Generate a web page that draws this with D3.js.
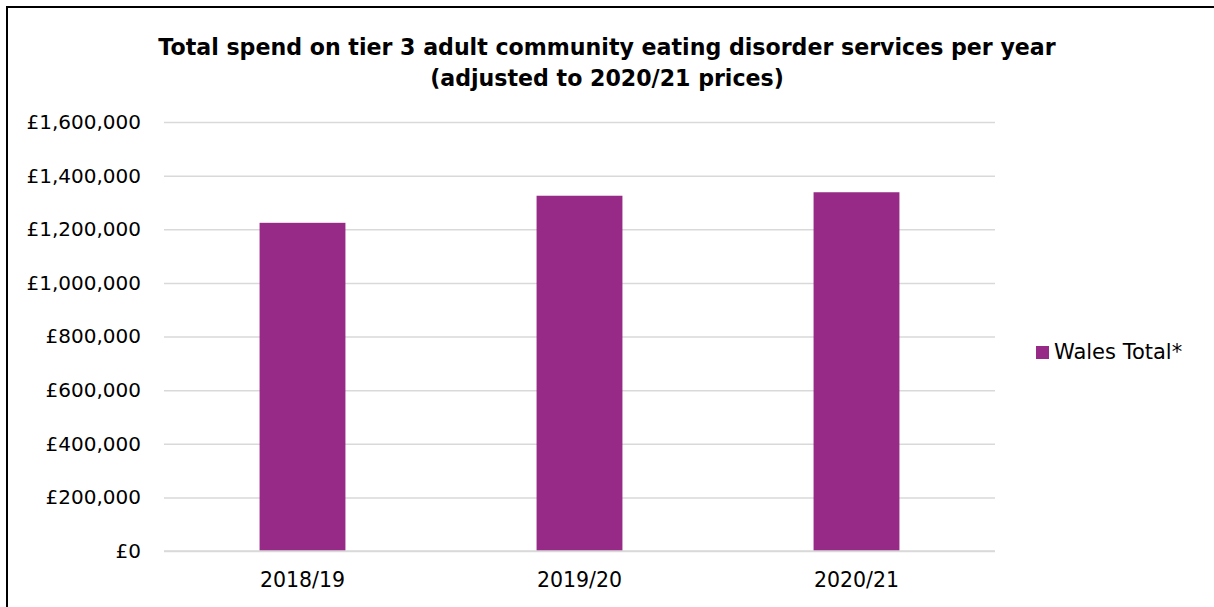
<!DOCTYPE html>
<html>
<head>
<meta charset="utf-8">
<script src="https://cdn.jsdelivr.net/npm/d3@7"></script>
<style>
  html, body { margin: 0; padding: 0; background: #fff; }
  svg { display: block; }
  text { font-family: "DejaVu Sans", Verdana, sans-serif; fill: #000; }
</style>
</head>
<body>
<svg id="chart" width="1214" height="607"></svg>
<script>
// Spend per financial year, adjusted to 2020/21 prices (£)
const years = ["2018/19", "2019/20", "2020/21"];
const walesTotal = [1224000, 1325000, 1338000];
const yTicks = [0, 200000, 400000, 600000, 800000, 1000000, 1200000, 1400000, 1600000];
const titleLines = [
  "Total spend on tier 3 adult community eating disorder services per year",
  "(adjusted to 2020/21 prices)"
];
const seriesName = "Wales Total*";
const barColor = "#962a86";
const gridColor = "#d9d9d9";

const W = 1214, H = 607;
const plot = { left: 164, right: 995, top: 122, bottom: 551 };

const svg = d3.select("#chart");

// Frame lines along the top and left edge
svg.append("path")
  .attr("d", `M7,${H} V7 H${W}`)
  .attr("fill", "none")
  .attr("stroke", "#000")
  .attr("stroke-width", 2);

// Scales
const x = d3.scaleBand()
  .domain(years)
  .range([plot.left, plot.right])
  .paddingInner(0.69)
  .paddingOuter(0.345);

const y = d3.scaleLinear()
  .domain([0, 1600000])
  .range([plot.bottom, plot.top]);

const fmt = v => "£" + d3.format(",")(v);

// Gridlines and y tick labels
const yAxis = d3.axisLeft(y)
  .tickValues(yTicks)
  .tickFormat(fmt)
  .tickSize(-(plot.right - plot.left))
  .tickPadding(23);

const gy = svg.append("g")
  .attr("transform", `translate(${plot.left},0)`)
  .call(yAxis);
gy.select(".domain").remove();
gy.selectAll(".tick line")
  .attr("stroke", gridColor)
  .attr("stroke-width", 1.5);
gy.selectAll(".tick text")
  .attr("font-size", 20)
  .attr("font-family", "DejaVu Sans, sans-serif")
  .attr("fill", "#000");

// Bars
svg.append("g")
  .selectAll("rect")
  .data(walesTotal)
  .join("rect")
  .attr("x", (d, i) => x(years[i]))
  .attr("width", x.bandwidth())
  .attr("y", d => y(d))
  .attr("height", d => y(0) - y(d))
  .attr("fill", barColor);

// Baseline axis
svg.append("line")
  .attr("x1", plot.left).attr("x2", plot.right)
  .attr("y1", y(0)).attr("y2", y(0))
  .attr("stroke", gridColor)
  .attr("stroke-width", 1.5);

// Category labels
const xAxis = d3.axisBottom(x).tickSize(0).tickPadding(21);
const gx = svg.append("g")
  .attr("transform", `translate(0,${plot.bottom})`)
  .call(xAxis);
gx.select(".domain").remove();
gx.selectAll(".tick text")
  .attr("font-size", 20.5)
  .attr("font-family", "DejaVu Sans, sans-serif")
  .attr("fill", "#000");

// Title
const title = svg.append("g");
title.selectAll("text")
  .data(titleLines)
  .join("text")
  .attr("x", 607)
  .attr("y", (d, i) => 55 + i * 31)
  .attr("text-anchor", "middle")
  .attr("font-weight", "bold")
  .attr("font-size", 20)
  .text(d => d);
// Fit the first line to its intended width
const firstLen = title.select("text").node().getComputedTextLength();
const titleSize = 20 * 898 / firstLen;
title.selectAll("text").attr("font-size", titleSize);

// Legend
const legend = svg.append("g").attr("transform", "translate(1036,346)");
legend.append("rect")
  .attr("width", 13).attr("height", 13)
  .attr("fill", barColor);
legend.append("text")
  .attr("x", 18).attr("y", 13)
  .attr("font-size", 21)
  .text(seriesName);
</script>
</body>
</html>
